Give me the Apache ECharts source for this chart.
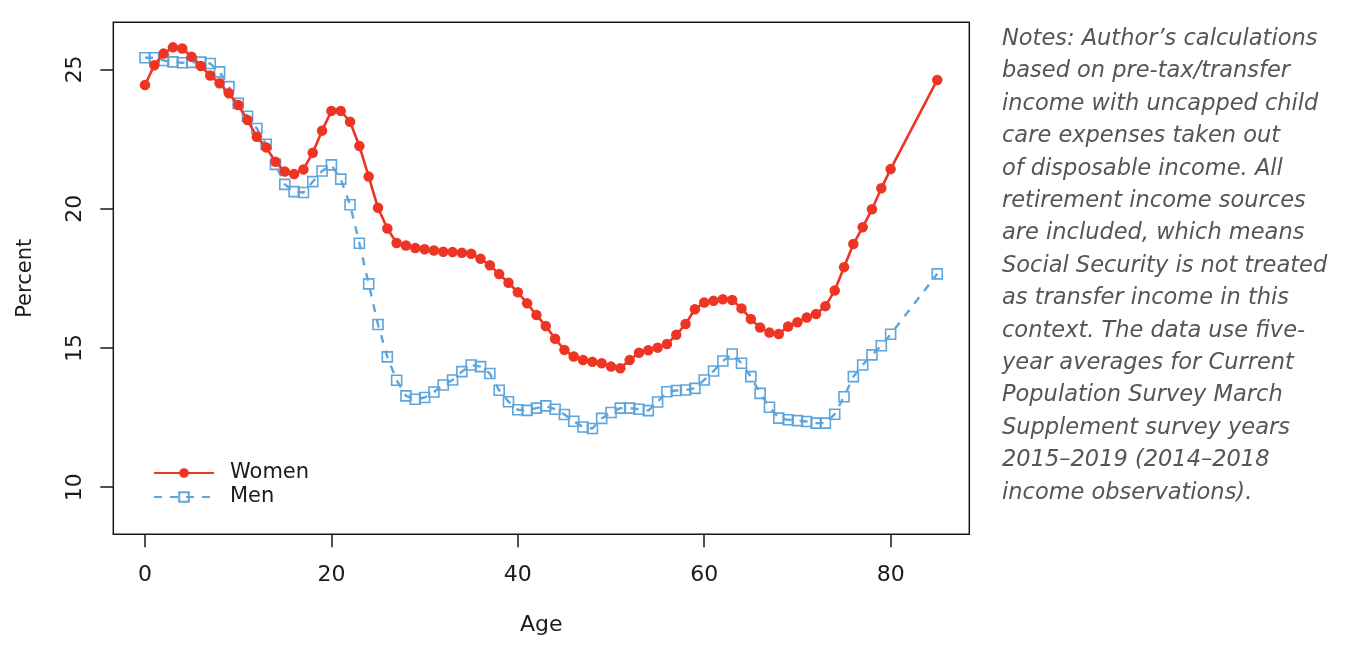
<!DOCTYPE html>
<html>
<head>
<meta charset="utf-8">
<script src="https://cdn.jsdelivr.net/npm/echarts@6/dist/echarts.min.js"></script>
<style>
html,body{margin:0;padding:0;background:#fff;}
#main{width:1345px;height:646px;}
</style>
</head>
<body>
<div id="main"></div>
<script>
const ages = [0,1,2,3,4,5,6,7,8,9,10,11,12,13,14,15,16,17,18,19,20,21,22,23,24,25,26,27,28,29,30,31,32,33,34,35,36,37,38,39,40,41,42,43,44,45,46,47,48,49,50,51,52,53,54,55,56,57,58,59,60,61,62,63,64,65,66,67,68,69,70,71,72,73,74,75,76,77,78,79,80,85];
const women = [24.44,25.15,25.57,25.79,25.75,25.45,25.12,24.78,24.50,24.14,23.72,23.18,22.58,22.20,21.68,21.33,21.24,21.41,22.01,22.80,23.51,23.51,23.12,22.25,21.15,20.03,19.29,18.77,18.68,18.59,18.54,18.50,18.45,18.44,18.42,18.38,18.20,17.97,17.65,17.34,17.00,16.60,16.18,15.79,15.33,14.93,14.69,14.57,14.50,14.45,14.33,14.27,14.57,14.83,14.92,15.01,15.14,15.47,15.86,16.39,16.63,16.69,16.75,16.72,16.42,16.04,15.73,15.55,15.50,15.77,15.92,16.09,16.22,16.50,17.06,17.90,18.73,19.33,19.98,20.73,21.42,24.62];
const men = [25.42,25.42,25.32,25.27,25.24,25.25,25.26,25.21,24.91,24.38,23.78,23.32,22.88,22.31,21.59,20.87,20.61,20.58,20.97,21.35,21.57,21.06,20.14,18.76,17.30,15.84,14.68,13.84,13.28,13.16,13.22,13.42,13.67,13.85,14.15,14.39,14.33,14.08,13.48,13.07,12.78,12.76,12.84,12.92,12.80,12.61,12.37,12.16,12.11,12.47,12.68,12.84,12.84,12.80,12.75,13.06,13.43,13.47,13.49,13.55,13.85,14.17,14.53,14.78,14.45,13.97,13.37,12.87,12.48,12.42,12.39,12.36,12.30,12.30,12.62,13.25,13.97,14.39,14.75,15.08,15.49,17.66];
const xTicks = [0,20,40,60,80];
const yTicks = [10,15,20,25];
const seriesNames = ['Women','Men'];
const noteLines = [
 'Notes: Author\u2019s calculations',
 'based on pre-tax/transfer',
 'income with uncapped child',
 'care expenses taken out',
 'of disposable income. All',
 'retirement income sources',
 'are included, which means',
 'Social Security is not treated',
 'as transfer income in this',
 'context. The data use five-',
 'year averages for Current',
 'Population Survey March',
 'Supplement survey years',
 '2015\u20132019 (2014\u20132018',
 'income observations).'
];

const FONT = 'DejaVu Sans';
const RED = '#EE3524';
const BLUE = '#5DA5DA';
const INK = '#1a1a1a';

const chart = echarts.init(document.getElementById('main'), null, {renderer:'canvas'});
chart.setOption({
  animation:false,
  backgroundColor:'#fff',
  textStyle:{fontFamily:FONT},
  grid:{left:113.3, right:375.7, top:22.3, bottom:111.7, show:true, borderColor:INK, borderWidth:1.5, backgroundColor:'transparent'},
  legend:{
    orient:'vertical', left:148, top:456,
    itemWidth:60, itemHeight:12, itemGap:0,
    textStyle:{fontSize:21, lineHeight:24, color:INK, fontFamily:FONT, padding:[0,0,0,11]},
    data:seriesNames
  },
  xAxis:{
    type:'value', min:-3.4, max:88.44,
    name:'Age', nameLocation:'middle', nameGap:80,
    nameTextStyle:{fontSize:22, color:INK, fontFamily:FONT},
    axisLine:{show:false, onZero:false},
    splitLine:{show:false},
    axisTick:{show:true, length:13, inside:false, customValues:xTicks, lineStyle:{color:INK, width:1.5}},
    axisLabel:{customValues:xTicks, fontSize:22, color:INK, margin:30, fontFamily:FONT}
  },
  yAxis:{
    type:'value', min:8.31, max:26.69,
    name:'Percent', nameLocation:'middle', nameGap:77, nameRotate:90,
    nameTextStyle:{fontSize:21, color:INK, fontFamily:FONT},
    axisLine:{show:false, onZero:false},
    splitLine:{show:false},
    axisTick:{show:true, length:13, inside:false, customValues:yTicks, lineStyle:{color:INK, width:1.5}},
    axisLabel:{customValues:yTicks, rotate:90, fontSize:22, color:INK, margin:27, fontFamily:FONT}
  },
  series:[
    {
      name:seriesNames[0], type:'line',
      data:ages.map((a,i)=>[a,women[i]]),
      symbol:'circle', symbolSize:10.5,
      lineStyle:{color:RED, width:2.6},
      itemStyle:{color:RED, borderWidth:0},
      z:3
    },
    {
      name:seriesNames[1], type:'line',
      data:ages.map((a,i)=>[a,men[i]]),
      symbol:'rect', symbolSize:10,
      lineStyle:{color:BLUE, width:2.4, type:[8,8]},
      itemStyle:{color:'rgba(255,255,255,0)', borderColor:BLUE, borderWidth:1.6},
      z:2
    }
  ],
  graphic:[{
    type:'text', left:1002, top:23,
    style:{
      text:noteLines.join('\n'),
      font:'oblique 22.5px "' + FONT + '"',
      fill:'#555',
      lineHeight:32.4
    }
  }]
});
</script>
</body>
</html>
